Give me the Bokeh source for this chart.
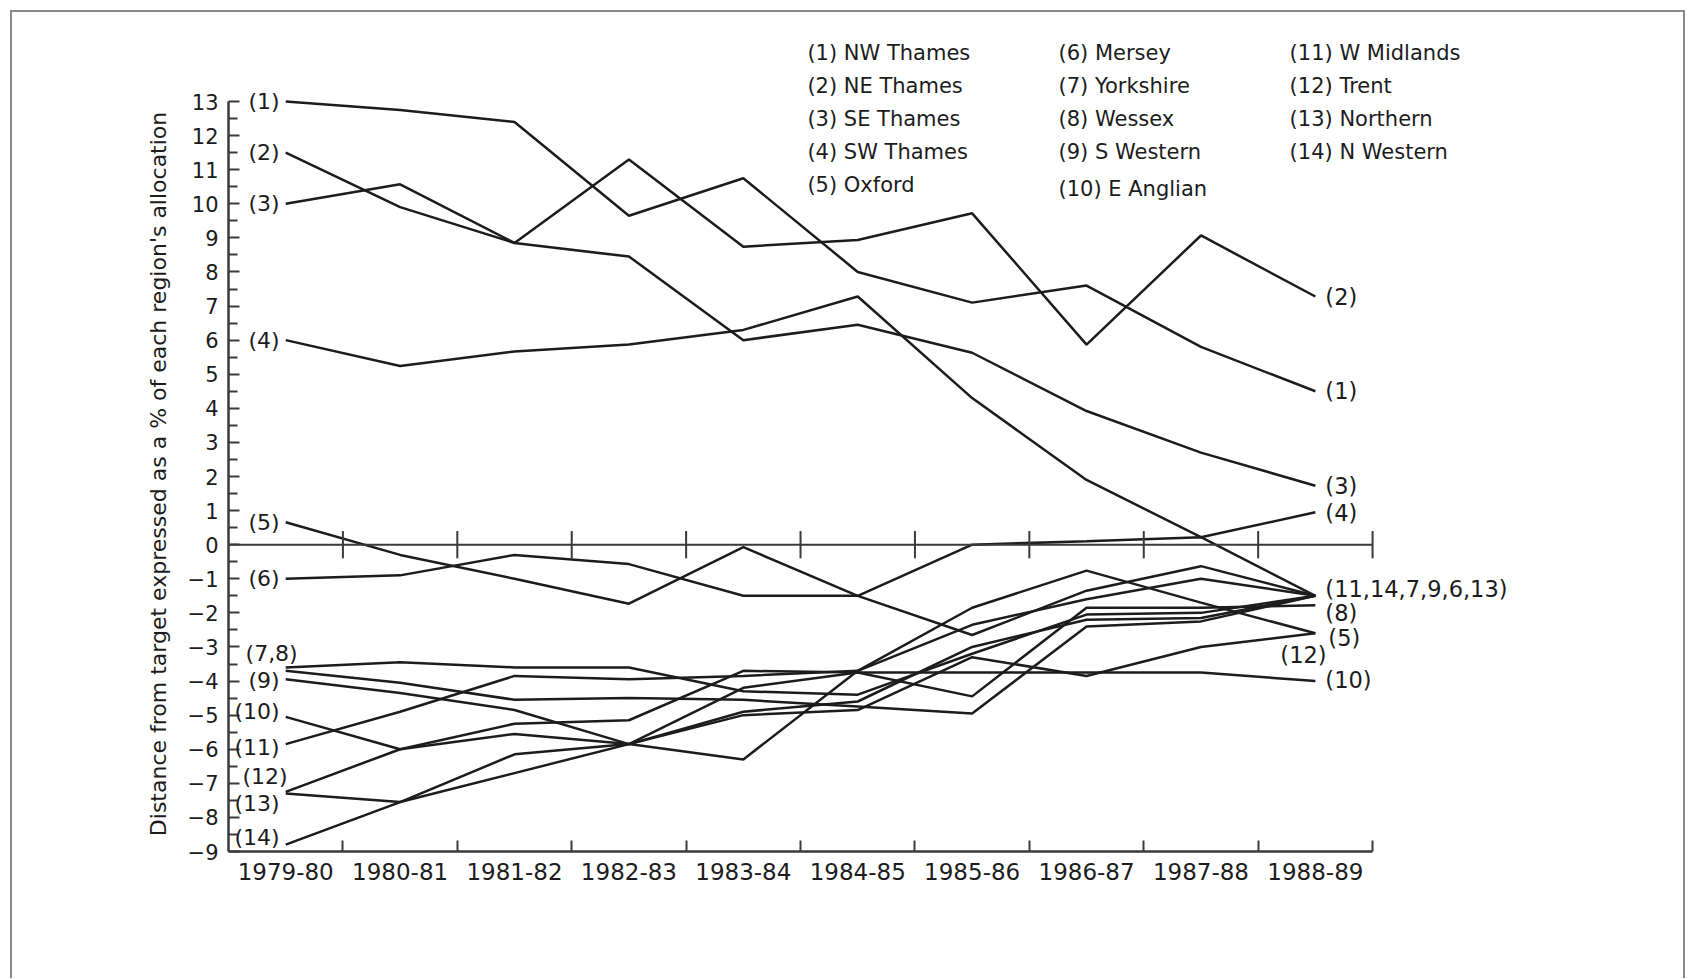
from bokeh.plotting import figure
from bokeh.models import ColumnDataSource, LabelSet, FixedTicker, Range1d
from bokeh.embed import file_html
from bokeh.resources import INLINE
from bokeh.core.properties import value

# ---------------- data ----------------
years = ["1979-80", "1980-81", "1981-82", "1982-83", "1983-84",
         "1984-85", "1985-86", "1986-87", "1987-88", "1988-89"]

s1 = [13.0, 12.75, 12.4, 9.65, 10.75, 8.0, 7.1, 7.6, 5.8, 4.5]
s2 = [11.5, 9.9, 8.85, 11.3, 8.74, 8.94, 9.72, 5.87, 9.07, 7.28]
s3 = [10.0, 10.57, 8.85, 8.45, 6.0, 6.45, 5.63, 3.92, 2.7, 1.73]
s4 = [6.0, 5.24, 5.67, 5.87, 6.3, 7.28, 4.3, 1.9, 0.22, 0.95]
s5 = [0.66, -0.3, -1.0, -1.73, -0.07, -1.5, -2.65, -1.35, -0.63, -1.5]
s6 = [-1.0, -0.9, -0.3, -0.57, -1.5, -1.5, 0.0, 0.1, 0.22, -1.5]
s7 = [-3.6, -3.45, -3.6, -3.6, -4.3, -4.4, -3.2, -2.05, -2.0, -1.5]
s8 = [-3.7, -4.05, -4.55, -4.5, -4.55, -4.75, -4.95, -2.4, -2.25, -1.5]
s9 = [-3.95, -4.35, -4.85, -5.85, -4.9, -4.6, -3.0, -2.2, -2.15, -1.5]
s10 = [-5.05, -6.0, -5.55, -5.85, -4.2, -3.75, -3.75, -3.75, -3.75, -4.0]
s11 = [-5.85, -4.9, -3.85, -3.95, -3.85, -3.7, -2.35, -1.6, -1.0, -1.5]
s12 = [-7.25, -6.0, -5.25, -5.15, -3.7, -3.75, -4.45, -1.85, -1.85, -1.78]
s13 = [-7.3, -7.55, -6.7, -5.85, -6.3, -3.7, -1.85, -0.76, -1.7, -2.6]
s14 = [-8.8, -7.55, -6.15, -5.85, -5.0, -4.85, -3.3, -3.85, -3.0, -2.6]
series = [s1, s2, s3, s4, s5, s6, s7, s8, s9, s10, s11, s12, s13, s14]

start_labels = ["(1)", "(2)", "(3)", "(4)", "(5)", "(6)", "(7,8)", "(9)",
                "(10)", "(11)", "(12)", "(13)", "(14)"]
start_label_y = [13.0, 11.5, 10.0, 6.0, 0.66, -1.0, -3.2, -3.97,
                 -4.9, -5.95, -6.8, -7.6, -8.6]

end_labels = ["(2)", "(1)", "(3)", "(4)", "(11,14,7,9,6,13)", "(8)", "(5)",
              "(12)", "(10)"]
end_label_y = [7.28, 4.5, 1.73, 0.92, -1.3, -2.0, -2.75, -3.25, -3.98]

legend_labels = ["(1) NW Thames", "(2) NE Thames", "(3) SE Thames",
                 "(4) SW Thames", "(5) Oxford",
                 "(6) Mersey", "(7) Yorkshire", "(8) Wessex",
                 "(9) S Western", "(10) E Anglian",
                 "(11) W  Midlands", "(12) Trent", "(13) Northern",
                 "(14) N Western"]

y_ticks = list(range(-9, 14))
y_title = "Distance from target expressed as a % of each region's allocation"

# ---------------- layout / style constants ----------------
INK = "#1c1c1c"
AXIS = "#3a3a3a"
FONT = "DejaVu Sans"
n = len(years)
xs = [i + 0.5 for i in range(n)]
bounds = [float(i) for i in range(1, n + 1)]
y_lo, y_hi = y_ticks[0], y_ticks[-1]

start_dx = [-6] * len(start_labels)
start_dx[start_labels.index("(7,8)")] = 12
start_dx[start_labels.index("(12)")] = 2
end_dx = [10] * len(end_labels)
end_dx[end_labels.index("(12)")] = -35
end_dx[end_labels.index("(5)")] = 13

leg_col_x = [5.06, 7.255, 9.275]
leg_top = 14.43
leg_step = 0.97

p = figure(frame_width=1350, frame_height=825,
           x_range=Range1d(0, 11.8), y_range=Range1d(y_lo, 15.2),
           output_backend="svg", toolbar_location=None,
           min_border_left=216, min_border_right=105,
           min_border_top=14, min_border_bottom=127)
p.outline_line_color = None
p.xgrid.visible = False
p.ygrid.visible = False
p.background_fill_color = "white"
p.border_fill_color = "white"
p.styles = {"border-top": "2px solid #8a8a8a", "border-left": "2px solid #8a8a8a",
            "border-right": "2px solid #8a8a8a", "margin": "10px 0px 0px 10px"}

# lines
p.multi_line(xs=[xs] * len(series), ys=series, line_color=INK, line_width=2.5)

# zero line with band ticks
p.segment(x0=[0], y0=[0], x1=[bounds[-1]], y1=[0], line_color=AXIS, line_width=2)
p.segment(x0=bounds, y0=[-0.4] * len(bounds), x1=bounds, y1=[0.4] * len(bounds),
          line_color=AXIS, line_width=2)

# x axis
xa = p.xaxis[0]
xa.bounds = (0, bounds[-1])
xa.ticker = FixedTicker(ticks=xs, minor_ticks=bounds)
xa.major_label_overrides = {x: y for x, y in zip(xs, years)}
xa.major_tick_line_color = None
xa.minor_tick_in = 11
xa.minor_tick_out = 0
xa.minor_tick_line_color = AXIS
xa.minor_tick_line_width = 2
xa.axis_line_color = AXIS
xa.axis_line_width = 2.5
xa.major_label_text_font = FONT
xa.major_label_text_font_size = "23px"
xa.major_label_text_color = INK
xa.major_label_standoff = 5

# y axis
ya = p.yaxis[0]
ya.bounds = (y_lo, y_hi)
ya.ticker = FixedTicker(ticks=y_ticks, minor_ticks=[t + 0.5 for t in y_ticks[:-1]])
ya.major_label_overrides = {t: str(t).replace("-", "\u2212") for t in y_ticks}
ya.major_tick_in = 11
ya.major_tick_out = 0
ya.minor_tick_in = 9
ya.minor_tick_out = 0
ya.major_tick_line_color = AXIS
ya.minor_tick_line_color = AXIS
ya.major_tick_line_width = 2
ya.minor_tick_line_width = 2
ya.axis_line_color = AXIS
ya.axis_line_width = 2.5
ya.major_label_text_font = FONT
ya.major_label_text_font_size = "21px"
ya.major_label_text_color = INK
ya.major_label_standoff = 10
# trailing no-break spaces move the centred title down to the axis' span
ya.axis_label = y_title + "\u00a0" * 10
ya.axis_label_text_font = FONT
ya.axis_label_text_font_size = "22px"
ya.axis_label_text_font_style = "normal"
ya.axis_label_text_color = INK
ya.axis_label_standoff = 14

# start labels
src_start = ColumnDataSource(dict(x=[xs[0]] * len(start_labels), y=start_label_y,
                                  t=start_labels, dx=start_dx))
p.add_layout(LabelSet(x="x", y="y", text="t", x_offset="dx", source=src_start,
                      text_align="right", text_baseline="middle",
                      text_font=value(FONT), text_font_size=value("22px"),
                      text_color=INK))

# end labels
src_end = ColumnDataSource(dict(x=[xs[-1]] * len(end_labels), y=end_label_y,
                                t=end_labels, dx=end_dx))
p.add_layout(LabelSet(x="x", y="y", text="t", x_offset="dx", source=src_end,
                      text_align="left", text_baseline="middle",
                      text_font=value(FONT), text_font_size=value("22.5px"),
                      text_color=INK))

# legend block (text)
leg_x, leg_y = [], []
for i, lab in enumerate(legend_labels):
    col = 0 if i < 5 else (1 if i < 10 else 2)
    row = i if i < 5 else (i - 5 if i < 10 else i - 10)
    extra = 0.12 if lab.startswith("(10)") else 0.0
    leg_x.append(leg_col_x[col])
    leg_y.append(leg_top - row * leg_step - extra)
src_leg = ColumnDataSource(dict(x=leg_x, y=leg_y, t=legend_labels))
p.add_layout(LabelSet(x="x", y="y", text="t", source=src_leg,
                      text_align="left", text_baseline="middle",
                      text_font=value(FONT), text_font_size=value("21px"),
                      text_color=INK))

open("out.html", "w").write(file_html(p, INLINE))
